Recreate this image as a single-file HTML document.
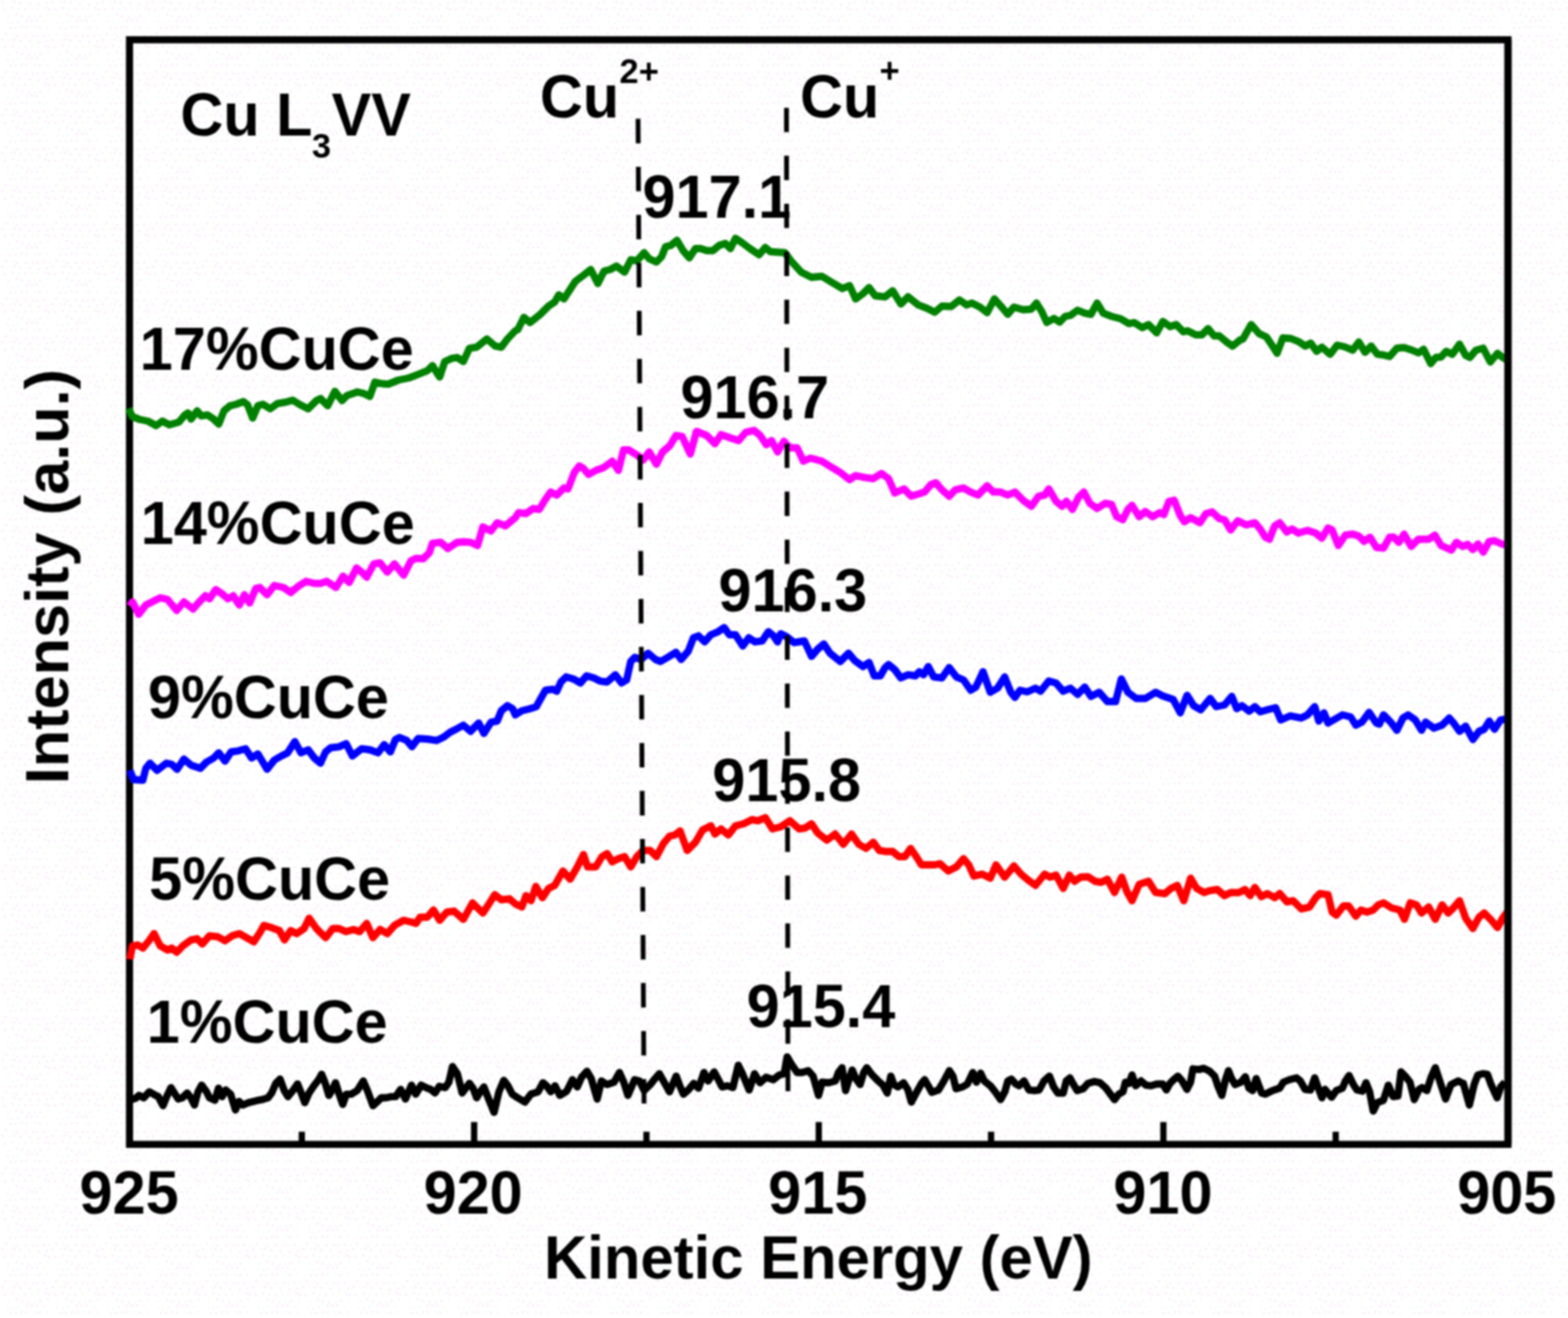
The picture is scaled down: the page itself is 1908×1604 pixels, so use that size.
<!DOCTYPE html>
<html lang="en">
<head>
<meta charset="utf-8">
<title>Cu L3VV Auger spectra</title>
<style>
html,body{margin:0;padding:0;background:#fff;}
body{width:1908px;height:1604px;overflow:hidden;}
svg{display:block;filter:blur(0.9px);}
text{font-family:"Liberation Sans",sans-serif;font-weight:bold;font-size:74px;fill:#000;}
.s{font-size:43px;}
.frame{fill:none;stroke:#000;stroke-width:8.6;stroke-linejoin:miter;}
.ticks line{stroke:#000;stroke-width:7.6;}
.dash{stroke:#000;stroke-width:5.8;fill:none;}
.curve{fill:none;stroke-linejoin:round;stroke-linecap:butt;}
</style>
</head>
<body>
<svg xmlns="http://www.w3.org/2000/svg" width="1908" height="1604" viewBox="0 0 1908 1604">
<defs>
<pattern id="dots" width="61" height="46" patternUnits="userSpaceOnUse">
<circle cx="3.0" cy="2.4" r="1.4" fill="#f5ddf5"/><circle cx="12.9" cy="2.2" r="1.4" fill="#eff8e2"/><circle cx="17.8" cy="2.2" r="1.4" fill="#f5ddf5"/><circle cx="24.9" cy="3.5" r="1.4" fill="#f5ddf5"/><circle cx="36.3" cy="4.4" r="1.4" fill="#f5ddf5"/><circle cx="47.6" cy="5.3" r="1.4" fill="#f5ddf5"/><circle cx="57.4" cy="4.1" r="1.4" fill="#f5ddf5"/><circle cx="5.9" cy="11.8" r="1.4" fill="#f5ddf5"/><circle cx="15.4" cy="9.8" r="1.4" fill="#f5ddf5"/><circle cx="22.8" cy="11.6" r="1.4" fill="#e3f6f8"/><circle cx="30.9" cy="11.3" r="1.4" fill="#f5ddf5"/><circle cx="39.0" cy="10.5" r="1.4" fill="#eff8e2"/><circle cx="45.7" cy="10.9" r="1.4" fill="#eff8e2"/><circle cx="55.5" cy="10.0" r="1.4" fill="#f5ddf5"/><circle cx="59.5" cy="11.5" r="1.4" fill="#f5ddf5"/><circle cx="10.6" cy="19.9" r="1.4" fill="#eff8e2"/><circle cx="20.4" cy="17.4" r="1.4" fill="#f5ddf5"/><circle cx="26.6" cy="19.8" r="1.4" fill="#f5ddf5"/><circle cx="35.0" cy="21.1" r="1.4" fill="#f5ddf5"/><circle cx="42.9" cy="20.7" r="1.4" fill="#e3f6f8"/><circle cx="48.9" cy="19.6" r="1.4" fill="#f5ddf5"/><circle cx="58.4" cy="17.7" r="1.4" fill="#e3f6f8"/><circle cx="9.4" cy="26.8" r="1.4" fill="#e3f6f8"/><circle cx="15.5" cy="28.4" r="1.4" fill="#eff8e2"/><circle cx="21.9" cy="26.5" r="1.4" fill="#e3f6f8"/><circle cx="32.5" cy="25.4" r="1.4" fill="#f5ddf5"/><circle cx="38.8" cy="24.9" r="1.4" fill="#f5ddf5"/><circle cx="44.7" cy="24.8" r="1.4" fill="#f5ddf5"/><circle cx="53.8" cy="26.1" r="1.4" fill="#eff8e2"/><circle cx="63.0" cy="27.5" r="1.4" fill="#e3f6f8"/><circle cx="12.7" cy="34.1" r="1.4" fill="#f5ddf5"/><circle cx="19.0" cy="34.1" r="1.4" fill="#f5ddf5"/><circle cx="26.4" cy="32.9" r="1.4" fill="#f5ddf5"/><circle cx="32.1" cy="33.1" r="1.4" fill="#f5ddf5"/><circle cx="42.4" cy="32.8" r="1.4" fill="#e3f6f8"/><circle cx="48.0" cy="33.5" r="1.4" fill="#f5ddf5"/><circle cx="57.1" cy="33.0" r="1.4" fill="#e3f6f8"/><circle cx="7.5" cy="41.4" r="1.4" fill="#f5ddf5"/><circle cx="16.3" cy="42.1" r="1.4" fill="#eff8e2"/><circle cx="20.8" cy="44.0" r="1.4" fill="#f5ddf5"/><circle cx="31.3" cy="43.8" r="1.4" fill="#f5ddf5"/><circle cx="40.2" cy="43.6" r="1.4" fill="#f5ddf5"/><circle cx="45.8" cy="43.8" r="1.4" fill="#f5ddf5"/><circle cx="53.5" cy="43.3" r="1.4" fill="#f5ddf5"/><circle cx="61.5" cy="43.3" r="1.4" fill="#f5ddf5"/>
</pattern>
</defs>
<rect x="-5" y="-5" width="1918" height="1614" fill="#ffffff"/>
<rect x="-5" y="-5" width="1918" height="1614" fill="url(#dots)" opacity="0.6"/>
<rect class="frame" x="157.6" y="48.4" width="1677.4" height="1344.3"/>
<g class="ticks">
<line x1="576.95" y1="1392.7" x2="576.95" y2="1365.5"/>
<line x1="996.3" y1="1392.7" x2="996.3" y2="1365.5"/>
<line x1="1415.65" y1="1392.7" x2="1415.65" y2="1365.5"/>
<line x1="367.275" y1="1392.7" x2="367.275" y2="1377.3"/>
<line x1="786.625" y1="1392.7" x2="786.625" y2="1377.3"/>
<line x1="1205.97" y1="1392.7" x2="1205.97" y2="1377.3"/>
<line x1="1625.33" y1="1392.7" x2="1625.33" y2="1377.3"/>
</g>
<g class="curves">
<polyline class="curve" points="157,1339 164.7,1336.8 169.1,1333.1 174.9,1336 181.6,1328.7 188.2,1332.4 192.6,1334.6 198.4,1345.6 202.8,1334.6 208,1323.6 213.1,1331.6 216.8,1337.5 221.9,1336 227.8,1330.2 232.2,1336 236.6,1344.8 241,1328.7 245.4,1320.6 251.3,1328.7 254.9,1336 261.5,1339 265.9,1324.3 270.3,1334.6 274.7,1326.5 280.6,1331.6 286.5,1350.7 290.9,1340.4 295.3,1344.8 302.6,1341.9 311.4,1339.7 318.8,1338.2 326.1,1336 330.5,1330.2 335.6,1318.4 340.8,1313.3 345.9,1327.2 350.3,1334.6 356.9,1326.5 362.1,1319.2 366.5,1330.2 370.9,1341.9 376,1330.2 381.9,1321.4 387.7,1314 391.4,1307.4 395.8,1318.4 400.2,1333.1 404.6,1325.8 408.3,1317.7 412.7,1331.6 417.1,1344.1 421.5,1331.6 427.3,1331.6 434.7,1327.2 442,1315.5 447.1,1327.2 453.8,1345.6 459.6,1340.4 464,1336 469.9,1336 475.8,1334.6 481.6,1334.6 487.5,1325.8 493.4,1337.5 500.7,1320.6 505.9,1331.6 512.5,1320.6 519.8,1324.3 524.2,1325.8 529.3,1330.2 534.5,1322.1 541.8,1323.6 546.2,1317 550.6,1297.9 556.5,1306.7 562.4,1330.2 571.2,1318.4 575.6,1324.3 580,1336 584.4,1328.7 588.8,1322.8 594.6,1337.5 601.2,1353.7 607.1,1328.7 613,1314.8 618.1,1321.4 623.3,1331.6 629.9,1336 638.7,1341.2 646,1331.6 654.8,1328.7 660.7,1317.7 665.1,1321.4 670.2,1328.7 675.4,1321.4 681.2,1333.1 688.6,1328.7 690,1327.2 696.6,1314 702.5,1322.8 707.6,1311.1 714.2,1303.8 719.4,1312.6 726.7,1337.5 731.8,1315.5 738.4,1319.9 747.2,1317 753.8,1305.2 759,1317 764.1,1333.1 772.2,1314 778.1,1315.5 783.9,1327.2 791.3,1319.9 797.1,1312.6 802.3,1306.7 808.9,1318.4 814.7,1328.7 822.8,1309.6 827.2,1321.4 831.6,1331.6 838.2,1325.8 844.1,1318.4 850,1324.3 856.6,1305.2 861.7,1315.5 869,1304.5 873.4,1312.6 878.6,1322.8 885.2,1321.4 891.8,1323.6 898.4,1296.4 902.8,1305.2 911.6,1326.5 918.2,1306.7 924.8,1317.7 932.1,1311.1 941,1314 948.3,1308.2 954.2,1306.7 957.8,1286.1 963,1294.9 970,1305.2 976.1,1305.2 983.5,1303 989.4,1309.6 996,1333.1 1000.4,1317 1008.4,1317.7 1016.5,1315.5 1020.2,1305.2 1024.6,1299.4 1029,1327.2 1033.4,1312.6 1037,1302.3 1041.4,1312.6 1046.6,1319.9 1051,1305.2 1054.7,1299.4 1061.3,1308.2 1068.6,1315.5 1074.5,1320.6 1079.6,1330.2 1084,1309.6 1087.7,1319.9 1092.8,1322.8 1099.4,1317.7 1104.6,1325.8 1109,1341.2 1115.6,1328.7 1121.4,1318.4 1125.1,1314 1129.5,1321.4 1133.9,1329.4 1142,1326.5 1148.6,1315.5 1155.2,1303 1159.6,1309.6 1163.3,1325 1171.3,1322.8 1177.2,1319.2 1183.8,1305.2 1188.2,1317 1193.3,1306 1197.7,1315.5 1205.1,1321.4 1211,1328.7 1217.6,1338.2 1222.7,1328.7 1226.4,1315.5 1230.8,1313.3 1235.9,1319.2 1240,1321.4 1246.1,1315.5 1252,1326.5 1257.9,1327.2 1264.5,1326.5 1270.4,1315.5 1277,1309.6 1282.1,1322.8 1287.2,1330.2 1293.8,1330.2 1297.5,1315.5 1301.9,1311.8 1306.3,1319.9 1310.7,1327.2 1318.1,1325 1323.9,1318.4 1331.3,1316.2 1338.6,1317.7 1345.9,1324.3 1351.8,1332.4 1356.2,1338.2 1361.3,1331.6 1366.5,1328.7 1369.4,1317 1373.8,1318.4 1377.5,1308.2 1381.9,1321.4 1388.5,1315.5 1394.4,1320.6 1400.2,1321.4 1407.6,1319.2 1414.9,1319.2 1419.3,1326.5 1423.7,1318.4 1428.1,1314 1433.3,1309.6 1438.4,1315.5 1444.3,1325.8 1448.7,1317 1451.6,1300.8 1458.9,1301.6 1464.8,1300.1 1472.1,1303.8 1478,1309.6 1482.4,1322.8 1486.8,1333.1 1491.2,1314 1494.9,1303 1498.6,1312.6 1503,1319.9 1510,1317 1515.4,1310.4 1519.8,1324.3 1524.2,1327.2 1528.6,1312.6 1535.2,1330.2 1539.6,1331.6 1548.4,1327.2 1557.2,1324.3 1561.6,1317 1569,1314 1577.8,1311.8 1582.2,1315.5 1588.1,1325.8 1594.7,1326.5 1599.8,1311.8 1604.2,1324.3 1608.6,1336 1612.3,1325.8 1620.3,1335.3 1626.2,1327.2 1633.5,1324.3 1637.2,1315.5 1641.6,1308.9 1646.8,1319.9 1651.2,1326.5 1657.8,1328 1662.2,1317.7 1666.6,1328.7 1671,1352.2 1676.1,1341.9 1683.4,1339 1689.3,1320.6 1695.2,1334.6 1701.1,1333.8 1704.7,1304.5 1709.9,1309.6 1715.7,1317 1720.9,1338.2 1726.7,1325.8 1730.4,1323.6 1736.3,1327.2 1741.4,1311.1 1746.6,1299.4 1752.4,1317 1759,1337.5 1765.6,1319.9 1774.4,1315.5 1780,1318.4 1780.6,1318.4 1788,1344.8 1793.8,1319.9 1798.2,1308.2 1804.1,1306.7 1810,1307.4 1814.4,1319.9 1821.7,1336 1826.1,1322.8 1831.3,1317" stroke="#000000" stroke-width="8.9"/>
<polyline class="curve" points="158,1167.5 161.2,1151.2 167.5,1150 173.8,1153.8 181.2,1145 187.5,1136.2 195,1151.2 203.8,1156.2 208.8,1153.8 215,1158.8 222.5,1151.2 232.5,1143.8 240,1142.5 246.2,1148.8 255,1138.8 265,1140 273.8,1145 282.5,1138.8 291.2,1136.2 300,1141.2 308.8,1146.2 316.2,1135 321.2,1126.2 330,1128.8 340,1132.5 346.2,1143.8 353.8,1132.5 361.2,1136.2 370,1130 376.2,1117.5 385,1130 396.2,1141.2 405,1130 412.5,1130 421.2,1133.8 430,1131.2 437.5,1133.8 446.2,1123.8 453.8,1141.2 462.5,1131.2 471.2,1136.2 480,1126.2 491.2,1120 500,1122 506.2,1123.8 511.2,1116.2 520,1116.2 527.5,1107.5 535,1120 543.8,1110 552.5,1108.8 563.8,1118.8 575,1098.8 587.5,1111.2 595,1100 602,1088.8 610,1095 620,1093.8 627,1100 635,1103.8 640,1090 646.2,1096.2 652,1078.8 660,1092.5 667.5,1081.2 675,1077.5 685,1060 693.8,1070 702.5,1055 710,1040 715,1055 725,1055 732.5,1042.5 738.8,1038.8 745,1048.8 752.5,1045 760,1042.5 767.5,1055 775,1042.5 782.5,1035 791.2,1035 798.8,1042.5 807.5,1026.2 815,1017.5 821.2,1016.2 827.5,1011.2 836.2,1035 846.2,1025 855,1010 865,1005 870,1015 877.5,1008.8 886.2,1016.2 895,1005 905,1002.5 915,997.5 922.5,998.8 931.2,995 940,1008.8 950,1006.2 961.2,998.8 972.5,1008.8 980,1007.5 987.5,1002.5 995,1013.8 1006.2,1022.5 1016.2,1015 1026.2,1027.5 1036.2,1015 1045,1027.5 1053.8,1032.5 1062.5,1025 1070,1035 1077,1036.2 1086.2,1036.2 1093.8,1042.5 1101.2,1042.5 1108,1032.5 1115,1042.5 1121.2,1052.5 1130,1052.5 1137.5,1052.5 1143.8,1051.2 1153.8,1060 1163.8,1055 1172.5,1045 1178.8,1052.5 1185,1066.2 1195,1063.8 1205,1068.8 1212,1052.5 1222.5,1067.5 1233.8,1053.8 1242.5,1063.8 1251.2,1071.2 1260,1077.5 1271.2,1063.8 1277.5,1067.5 1285,1065 1293.8,1081.2 1301.2,1065 1307.5,1072.5 1315,1067.5 1323.8,1067 1332.5,1072.5 1340,1073.8 1347.5,1070 1356.2,1086.2 1365,1067.5 1371.2,1085 1377.5,1096.2 1386.2,1076.2 1397.5,1072.5 1406.2,1086.2 1417.5,1087.5 1425,1081.2 1432.5,1077.5 1440.5,1096.2 1448.8,1068.8 1456.2,1081.2 1465,1086.2 1472.5,1083.8 1481.2,1082.5 1490,1090 1497.5,1086.2 1507.5,1086.2 1515,1082.5 1521.2,1090 1527,1080 1534.8,1091.2 1542.2,1087.5 1551,1092.5 1557.2,1087.5 1566,1097.5 1573.5,1096.2 1583.5,1106.2 1593.5,1103.8 1601,1092.5 1606,1087.5 1616,1088.8 1621,1110 1626,1113.8 1634.8,1102.5 1641,1102.5 1649.8,1115 1656,1107.5 1663.5,1110 1671,1107.5 1677.2,1101.2 1683.5,1098.8 1693.5,1105 1703.5,1107.5 1709,1118.8 1716,1098.8 1723.5,1101.2 1729.8,1111.2 1738.5,1103.8 1746.5,1118.8 1754.8,1101.2 1762.2,1111.2 1768.5,1105 1776,1096.2 1783.5,1117.5 1792.2,1130 1799.8,1116.2 1806,1111.2 1814.8,1120 1822.2,1128.8 1828.5,1117.5 1834,1110" stroke="#ff0000" stroke-width="8.9"/>
<polyline class="curve" points="158,937.5 162.5,948.8 173.8,949.5 177.5,935 182.5,928.8 191.2,937.5 202.5,928.8 208.8,930 215.5,936.2 223.8,923.8 232.5,931.2 243.8,935 251.2,927.5 260,922.5 266.2,916.2 273.8,926.2 281.2,915 290,913.8 298.8,911.2 306.2,922.5 313.8,917.5 325,936.2 333.8,925 342.5,920 350,916.2 358.8,902.5 366.2,916.2 375,912.5 382.5,922.5 390,928.8 396.2,915 402.5,910 412.5,908.8 421.2,905 428.8,920 440,911.2 450,912.5 460,916.2 467.5,906.2 475,915 481.2,900 486.2,897.5 495,901.2 501.2,908.8 508.8,898.8 520,899.5 531.2,901.2 540,897 547.5,891.2 555,887.5 563.8,882.5 572.5,890 582.5,880 588.8,892.5 597.5,878.8 605,877.5 610,865 617.5,858.8 623.8,862.5 627,870 635,865 645,862.5 652.5,860 658.8,848.8 663.8,840 672.5,838.8 677.5,841.2 682.5,830 688.8,823.8 697.5,826.2 706.2,831.2 713.8,822.5 722.5,825 730,828.8 738.8,830 748.8,821.2 756.2,831.2 762.5,827.5 767.5,805 772.5,800 780,802.5 788.8,795 797.5,802.5 803.8,805 812.5,800 822.5,793.8 828.8,802.5 837.5,792.5 843.8,776.2 850,773.8 857.5,781.2 865,772.5 873.8,768.8 881.2,763.8 887.5,772.5 895,772.5 903.8,786.2 911.2,776.2 918.8,781.2 927.5,780 935,768.8 941.2,773.8 946.2,781.2 950,771.2 957.5,775 966.2,782 978.8,780 987.5,798.8 995,790 1002.5,783.8 1010,795 1022.5,805 1032.5,795 1040,803.8 1050,811.2 1057.5,806.2 1063.8,822.5 1071.2,822.5 1077,812.5 1081.2,808.8 1088.8,815 1096.2,825 1105,821.2 1113.8,822.5 1118.8,817.5 1123.8,821.2 1129.5,811.2 1136.2,823.8 1146.2,825 1155,812.5 1163.8,823.8 1172.5,827.5 1181.2,840 1187.5,836.2 1196.2,817.5 1205,842.5 1213.8,837.5 1222.5,823.8 1230,842.5 1235,848.8 1241.2,840 1250,842 1260,837.5 1266.2,841.2 1276.2,828.8 1285,831.2 1293.8,841.2 1302.5,837.5 1311.2,845 1320,836.2 1327.5,847.5 1337.5,842.5 1347.5,853.8 1357.5,853.8 1364.5,826.2 1372.5,842.5 1382.5,850 1393.8,850 1406.2,842.5 1415,847 1427.5,851.2 1436.2,867.5 1444.5,846.2 1452.5,858.8 1461.2,863.8 1472.5,850 1480,860 1490,858 1498.8,847.5 1505,862.5 1511.2,858.8 1520,865.5 1527,860 1533.5,866.2 1542.2,863.8 1552.2,861.2 1558.5,876.2 1569.8,871.2 1583.5,873.8 1591,870 1599.8,860 1604.8,877.5 1611,867.5 1616,880 1624.8,875 1633.5,870 1643.5,872.5 1649.8,882.5 1657.2,878.8 1666,867 1674.8,880 1678.5,881.2 1683.5,870 1692.2,878.8 1699.8,888.8 1707.2,873.8 1713.5,870 1722.2,876.2 1729.8,888.8 1734.8,878.8 1744.8,886.2 1754.8,882.5 1763.5,873.8 1769.8,881.2 1776,890 1783.5,883.8 1792.2,900 1799.8,890 1806,887.5 1812.2,877.5 1818.5,887.5 1826,876.2 1834,875" stroke="#0000ff" stroke-width="8.9"/>
<polyline class="curve" points="158,737.5 161.2,732.5 168.8,747.5 177.5,736.2 187.5,731.2 195,727.5 203.8,729.5 215,743 223.8,732.5 235,741.2 242.5,732.5 250,725 255,728.8 262.5,717.5 270,722.5 277.5,728.8 283.8,725 291.2,736.2 297.5,723.8 303.8,733.8 311.2,716.2 316.2,715 325,723.8 333.8,712.5 345,715 353.8,721.2 362.5,713.8 372.5,707.5 382.5,710 390,710 397.5,707.5 408.8,715 417.5,701.2 425,708.8 433.8,691.2 440,696.2 446.2,702.5 455,686.2 462.5,685 471.2,696.2 480,686.2 491.2,700 500,682.5 506.2,679.5 515,680 522.5,672.5 526.2,661.2 536.2,660 545,667.5 556.2,660 565,659.5 572.5,660 581.2,663.8 587.5,641.2 597.5,646.2 605,636.2 615,640 627,630 631.2,623.8 640,625 648.8,618.8 656.2,620 663.8,607.5 670,598.8 677.5,602.5 686.2,593.8 691.2,595 698.8,575 705,567 710,570 716.2,577.5 725,572.5 735,568.8 745,561.2 752.5,572.5 758.8,547.5 765,547.5 775,553.8 782.5,560 790,550 798.8,565 806.2,550 815,542.5 822.5,530 830,531.2 840,552.5 847.5,525 860,530 870,540 877.5,528.8 887.5,532.5 898.8,536.2 907.5,526.2 917.5,523.8 925,530 932.5,541.2 938.8,536.2 946.2,550 953.8,537 961.2,545 970,545 977.5,561.2 986.2,557.5 1000,561.2 1010,567.5 1022.5,575 1033.8,583.8 1041.2,578.8 1052.5,581.2 1062.5,582.5 1072.5,576.2 1081.2,582.5 1088.8,600 1100,595 1108.8,603.8 1117.5,601.2 1125,598.8 1132.5,590 1138.8,587.5 1146.2,596.2 1155,603.8 1162.5,596.2 1172.5,593.8 1181.2,598.8 1190,602.5 1197.5,595 1201.2,591.2 1208.8,598.8 1217.5,598.8 1226.2,602.5 1235,598.8 1245,608.8 1255,616.2 1263.8,603.8 1271.2,602.5 1276.2,595 1285,610 1292.5,616.2 1297.5,610 1305,620 1312.5,605 1318.8,598.8 1326.2,612.5 1335,618.8 1345,612.5 1352.5,613.8 1358.8,628.8 1366.2,632.5 1372.5,620 1377.5,615 1386.2,628.8 1393.8,622.5 1402.5,628.8 1411.2,623.8 1416.2,626.2 1422.5,610 1428.8,608.8 1436.2,627.5 1441.2,635 1448.8,630 1460,636.2 1467.5,625 1475,623 1483.8,631.2 1490,632.5 1497.5,645 1506.2,633.8 1516.2,638.8 1527,636.2 1533.5,643.8 1539.8,653.8 1544.8,656.2 1551,640 1557.2,636.2 1566,647.5 1572.2,643.8 1579.8,648.8 1591,645.5 1601,648.8 1608.5,655 1616,642.5 1621,645 1628.5,663.8 1637.2,651.2 1646,650 1653.5,652.5 1659.8,658.8 1667.2,653.8 1674.8,666.2 1683.5,667 1691,653.8 1696,653.8 1702.2,660 1708.5,650 1717.2,665 1726,656.2 1738.5,656.2 1746,651.2 1753.5,663.8 1766,669.5 1772.2,660 1779.8,665 1786,662.5 1792.2,668.8 1798.5,662 1804.8,672 1812.2,658.8 1818.5,658 1828.5,662.5 1834,662.5" stroke="#ff00ff" stroke-width="8.9"/>
<polyline class="curve" points="156.5,497 161,507 170,510.5 180,512.5 190,518 197.5,512.5 206.2,517 217.5,513.8 225,505 228.8,502.5 232.5,510 240,500 245,506.2 252.5,505 260,510 266.2,516.2 272.5,500 280,493.8 287.5,492 296.2,488.8 301.2,492.5 307.5,508.8 313.8,493.8 320,492 328.8,497.5 337.5,491.2 347.5,489.5 356.2,487 365,492.5 375,497.5 385,487.5 390,485 398.8,493.8 407.5,476.2 416.2,487.5 422.5,481.2 435,477 442.5,478.8 450,482.5 456.2,465 465,467 472.5,467.5 485,462.5 497.5,460 507.5,456.2 520,451.2 526.2,445 535,458.8 541.2,440 550,436.2 556.2,435 563.8,440 571.2,423.8 580,422.5 592.5,412.5 602.5,421.2 610,422.5 617.5,412.5 627,402.5 630,401.2 637.5,386.2 645,392.5 657.5,382.5 667.5,372.5 675,367.5 680,358.8 686.2,363.8 700,342.5 710,335 718.8,328 727.5,345 735,330 742.5,328 750,323.8 760,331.2 767.5,316.2 775,317.5 783.8,307.5 790,315 798.8,318.8 805,312.5 810,300 816.2,298.8 823.8,292.5 831.2,305 838.8,313.8 846.2,302.5 852.5,302.5 860,305 867.5,305 875,298.8 882.5,296.2 888.8,302.5 895,290 902.5,295 912.5,302.5 923.8,310 931.2,301.2 937.5,306.2 947.5,307 955,307.5 962.5,317.5 975,331.2 987.5,337.5 1000,336.2 1012.5,343.8 1025,351.2 1033.8,347.5 1041.2,363.8 1050,357.5 1057.5,350 1065,360 1077,361.2 1086.2,353.8 1096.2,370 1105,361.2 1117.5,371.2 1127.5,375 1137.5,380 1146.2,372.5 1157.5,373 1167.5,365 1176.2,371.2 1182.5,368.8 1192.5,373.8 1201.2,380.5 1210,363.8 1220,375 1226.2,382.5 1233.8,373.8 1245,377 1255,376.2 1261.2,368.8 1267.5,378.8 1273.8,392.5 1282.5,387.5 1289.5,392 1296.2,385 1302.5,383.8 1311.2,377.5 1320,381.2 1327.5,382.5 1335,368.8 1342.5,381.2 1352.5,385 1363.8,388 1373.8,393.8 1380,392.5 1390,398.8 1397.5,395 1407.5,405 1415,391.2 1423.8,397.5 1431.2,395 1440,403.8 1445,402.5 1455,407.5 1462.5,407.5 1470,400 1477.5,408.8 1483.8,408.8 1492.5,416.2 1500,421.2 1508.8,413.8 1512.5,412.5 1522.5,395 1532.2,406.2 1541,410 1548.5,421.2 1554,430 1561,411.2 1571,412 1581,416.2 1588.5,421.2 1594.8,417.5 1602.2,427.5 1608.5,422.5 1618.5,431.2 1627.2,420 1636,422 1646,426.2 1653.5,416.2 1661,428.8 1668.5,421.2 1676,431.2 1683.5,432 1691,433.8 1699.8,423.8 1708.5,423 1718.5,426.2 1726,429.5 1732.2,425 1741,442.5 1747.2,435 1753.5,434.5 1759.8,427.5 1767.2,431.2 1776,418.8 1783.5,432.5 1788.5,435 1796,426.2 1804.8,423.8 1813.5,440.5 1822.2,430 1828.5,435 1834,438" stroke="#008000" stroke-width="8.9"/>
</g>
<g class="dashes">
<line class="dash" x1="776.4" y1="144.6" x2="783.7" y2="1343" stroke-dasharray="29.8 28.63"/>
<line class="dash" x1="957" y1="131.2" x2="958.8" y2="1328" stroke-dasharray="29.6 28.79"/>
</g>
<line class="frame" x1="1835" y1="48.4" x2="1835" y2="1392.7"/>
<g class="labels">
<text id="t925" transform="translate(157.10,1477.00) scale(0.977,1)" text-anchor="middle">925</text>
<text id="t920" transform="translate(575.75,1477.00) scale(0.977,1)" text-anchor="middle">920</text>
<text id="t915" transform="translate(995.10,1477.00) scale(0.977,1)" text-anchor="middle">915</text>
<text id="t910" transform="translate(1415.15,1477.00) scale(0.977,1)" text-anchor="middle">910</text>
<text id="t905" transform="translate(1833.50,1477.00) scale(0.977,1)" text-anchor="middle">905</text>
<text id="xt" transform="translate(995.80,1556.00) scale(0.984,1)" text-anchor="middle">Kinetic Energy (eV)</text>
<text id="yt" transform="translate(83.30,701.80) rotate(-90) scale(1.008,1.005)" text-anchor="middle">Intensity (a.u.)</text>
<text id="cul" transform="translate(219.50,165.00) scale(0.977,1)">Cu L<tspan class="s" dy="26.5" dx="-0.5">3</tspan><tspan dy="-26.5" dx="0.5">VV</tspan></text>
<text id="cu2" transform="translate(657.00,142.80) scale(0.977,1)">Cu<tspan class="s" dy="-42" dx="0.5">2+</tspan></text>
<text id="cu1" transform="translate(973.50,142.80) scale(0.977,1)">Cu<tspan class="s" dy="-43" dx="0.5">+</tspan></text>
<text id="l17" transform="translate(170.00,449.50) scale(0.977,1)">17%CuCe</text>
<text id="l14" transform="translate(171.20,662.00) scale(0.977,1)">14%CuCe</text>
<text id="l9" transform="translate(180.00,874.00) scale(0.977,1)">9%CuCe</text>
<text id="l5" transform="translate(181.50,1095.00) scale(0.977,1)">5%CuCe</text>
<text id="l1" transform="translate(178.50,1269.00) scale(0.977,1)">1%CuCe</text>
<text id="p1" transform="translate(781.80,264.80) scale(0.977,1)">917.1</text>
<text id="p2" transform="translate(828.00,508.50) scale(0.977,1)">916.7</text>
<text id="p3" transform="translate(874.30,743.70) scale(0.977,1)">916.3</text>
<text id="p4" transform="translate(866.80,974.70) scale(0.977,1)">915.8</text>
<text id="p5" transform="translate(908.50,1249.50) scale(0.977,1)">915.4</text>
</g>
</svg>
</body>
</html>
